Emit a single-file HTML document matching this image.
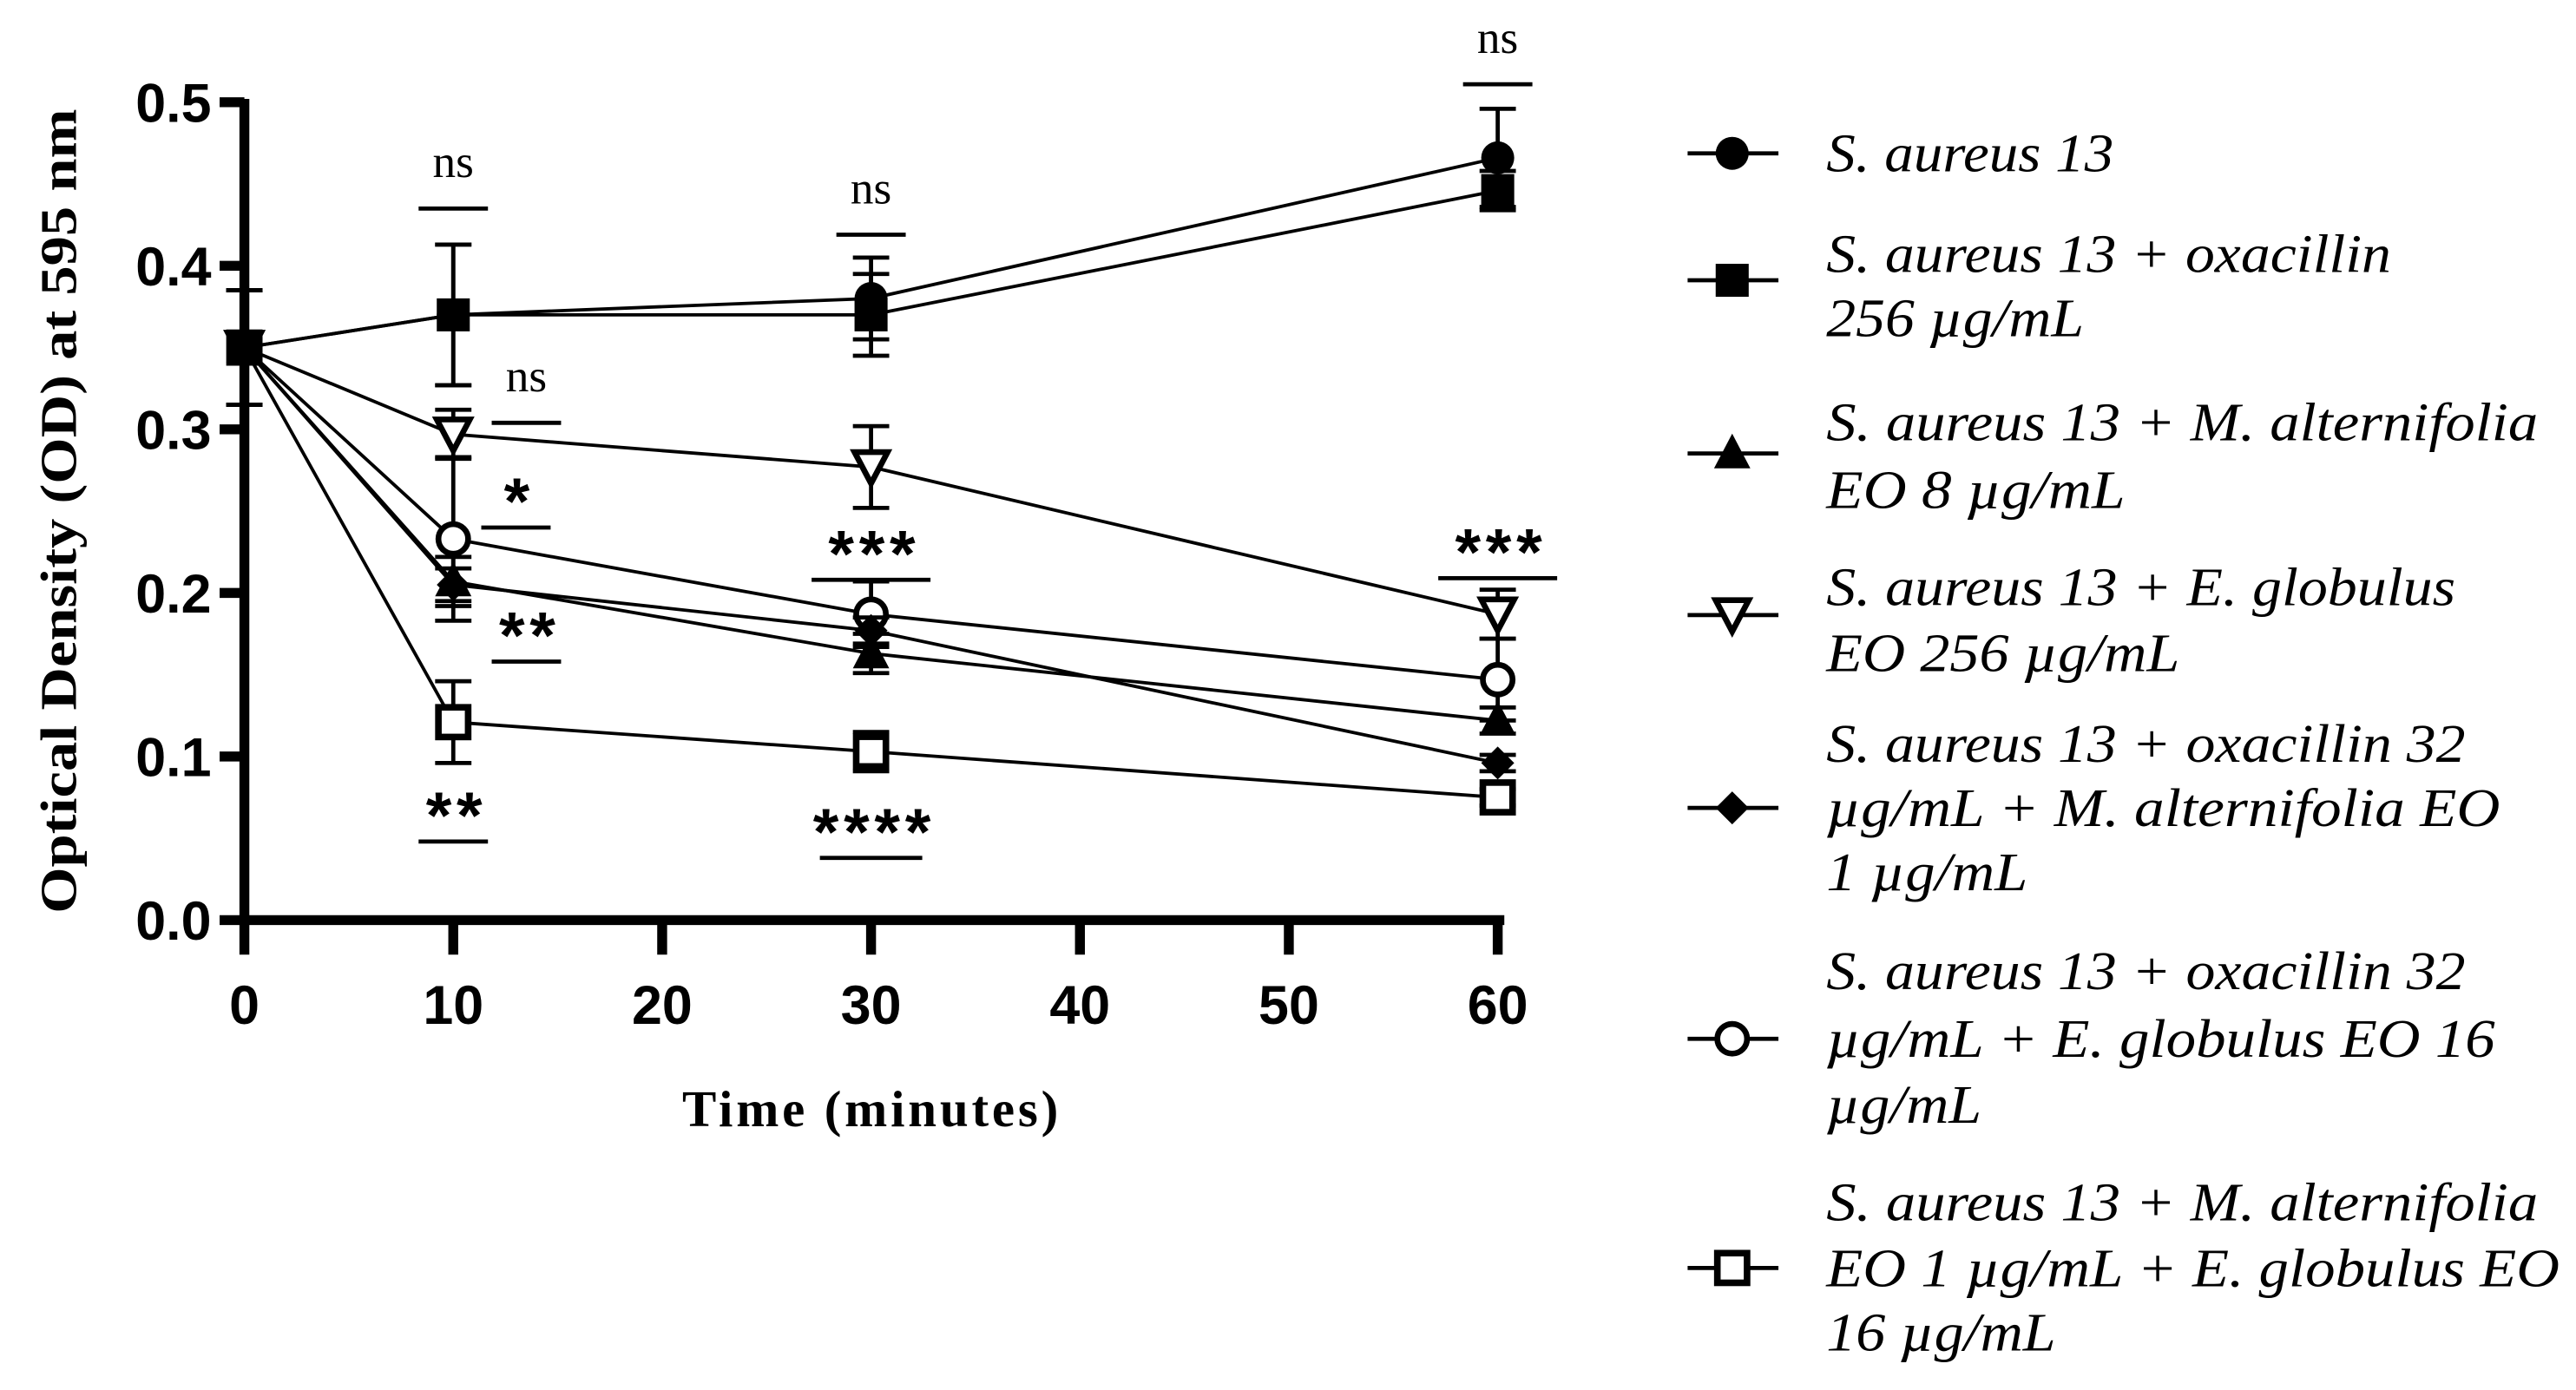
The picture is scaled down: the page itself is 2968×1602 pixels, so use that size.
<!DOCTYPE html>
<html><head><meta charset="utf-8"><style>
html,body{margin:0;padding:0;background:#fff;}
svg{display:block;}
.tick{font-family:"Liberation Sans",Arial,sans-serif;font-weight:bold;font-size:33px;}
.leg{font-family:"Liberation Serif","Times New Roman",serif;font-style:italic;font-size:33px;}
.ann{font-family:"Liberation Serif","Times New Roman",serif;font-size:28px;}
.star{font-family:"Liberation Sans",Arial,sans-serif;font-weight:bold;font-size:40px;letter-spacing:3px;}
</style></head><body>
<svg id="chart" width="2968" height="1602" viewBox="0 0 1560 843" preserveAspectRatio="none" xmlns="http://www.w3.org/2000/svg">
<g id="plot"></g>
<g id="legend"></g>
</svg>
<script>
const times = [0, 10, 30, 60];
const xTicks = [0, 10, 20, 30, 40, 50, 60];
const yTicks = [0.0, 0.1, 0.2, 0.3, 0.4, 0.5];
const sAureus = [0.35, 0.37, 0.38, 0.466];
const sAureusErr = [0.035, 0.043, 0.025, 0.03];
const oxa256 = [0.35, 0.37, 0.37, 0.446];
const oxa256Err = [0.035, 0.043, 0.025, 0.012];
const mAlt = [0.35, 0.207, 0.163, 0.122];
const mAltErr = [0.035, 0.015, 0.012, 0.008];
const eGlob = [0.35, 0.297, 0.277, 0.187];
const eGlobErr = [0.035, 0.015, 0.025, 0.015];
const oxaM = [0.35, 0.205, 0.177, 0.096];
const oxaMErr = [0.035, 0.01, 0.008, 0.005];
const oxaE = [0.35, 0.233, 0.187, 0.147];
const oxaEErr = [0.035, 0.05, 0.02, 0.025];
const mE = [0.35, 0.121, 0.103, 0.075];
const mEErr = [0.035, 0.025, 0.012, 0.005];
const annLabels = ["ns","ns","*","**","**","ns","***","****","ns","***"];
const annTimes = [10, 13.5, 13, 13.5, 10, 30, 30, 30, 60, 60];
const annValues = [0.435, 0.304, 0.24, 0.158, 0.048, 0.419, 0.208, 0.038, 0.511, 0.209];

const NS='http://www.w3.org/2000/svg';
const X0=148, XS=12.65, Y0=558, YS=992;
function sx(t){return X0+t*XS;}
function sy(v){return Y0-v*YS;}
function mk(tag,attrs,parent){const e=document.createElementNS(NS,tag);for(const k in attrs)e.setAttribute(k,attrs[k]);parent.appendChild(e);return e;}
const plot=document.getElementById('plot');
const legend=document.getElementById('legend');

let ya=mk('line',{x1:X0,y1:Y0+3,x2:X0,y2:sy(0.5)-2,stroke:'#000','stroke-width':6},plot);


let xa=mk('line',{x1:X0-3,y1:Y0,x2:sx(60)+4,y2:Y0,stroke:'#000','stroke-width':6},plot);


yTicks.forEach(v=>{
  const l=mk('line',{x1:X0-15,y1:sy(v),x2:X0,y2:sy(v),stroke:'#000','stroke-width':6},plot);
  
  
  const t=mk('text',{x:X0-20,y:sy(v)+12,'text-anchor':'end',class:'tick'},plot);
  t.textContent=v.toFixed(1);
  
  
});
xTicks.forEach(v=>{
  const l=mk('line',{x1:sx(v),y1:Y0,x2:sx(v),y2:Y0+21,stroke:'#000','stroke-width':6},plot);
  
  
  const t=mk('text',{x:sx(v),y:Y0+63,'text-anchor':'middle',class:'tick'},plot);
  t.textContent=String(v);
  
  
});
let xt=mk('text',{x:528,y:683,'text-anchor':'middle','font-family':'Liberation Serif, Times New Roman, serif','font-weight':'bold','font-size':31,'letter-spacing':2},plot);
xt.textContent='Time (minutes)';


let yt=mk('text',{x:0,y:0,'text-anchor':'middle','font-family':'Liberation Serif, Times New Roman, serif','font-weight':'bold','font-size':31,textLength:488,lengthAdjust:'spacingAndGlyphs',transform:'translate(46,310) rotate(-90)'},plot);
yt.textContent='Optical Density (OD) at 595 nm';



function marker(type,cx,cy,parent){
  let e;
  const r=10;
  if(type==='circle') e=mk('circle',{cx,cy,r,fill:'#000'},parent);
  else if(type==='square') e=mk('rect',{x:cx-r,y:cy-r,width:2*r,height:2*r,fill:'#000'},parent);
  else if(type==='tri') e=mk('polygon',{points:`${cx},${cy-12} ${cx+11},${cy+9} ${cx-11},${cy+9}`,fill:'#000'},parent);
  else if(type==='dtri') e=mk('polygon',{points:`${cx-10},${cy-9} ${cx+10},${cy-9} ${cx},${cy+10}`,fill:'#fff',stroke:'#000','stroke-width':3.5},parent);
  else if(type==='diamond') e=mk('polygon',{points:`${cx},${cy-10} ${cx+10},${cy} ${cx},${cy+10} ${cx-10},${cy}`,fill:'#000'},parent);
  else if(type==='ocircle') e=mk('circle',{cx,cy,r:9,fill:'#fff',stroke:'#000','stroke-width':3.5},parent);
  else if(type==='osquare') e=mk('rect',{x:cx-9,y:cy-9,width:18,height:18,fill:'#fff',stroke:'#000','stroke-width':4},parent);
  return e;
}
const series=[
 {name:'s-aureus-13',vals:sAureus,err:sAureusErr,m:'circle'},
 {name:'oxacillin-256',vals:oxa256,err:oxa256Err,m:'square'},
 {name:'m-alternifolia-8',vals:mAlt,err:mAltErr,m:'tri'},
 {name:'e-globulus-256',vals:eGlob,err:eGlobErr,m:'dtri'},
 {name:'oxacillin-m-alternifolia',vals:oxaM,err:oxaMErr,m:'diamond'},
 {name:'oxacillin-e-globulus',vals:oxaE,err:oxaEErr,m:'ocircle'},
 {name:'m-alternifolia-e-globulus',vals:mE,err:mEErr,m:'osquare'}
];
series.slice().reverse().forEach(s=>{
  const g=mk('g',{},plot);
  
  
  s.vals.forEach((v,i)=>{
    const x=sx(times[i]), e=s.err[i];
    const eb=mk('path',{d:`M${x},${sy(v+e)}V${sy(v-e)}M${x-11},${sy(v+e)}H${x+11}M${x-11},${sy(v-e)}H${x+11}`,stroke:'#000','stroke-width':2.5,fill:'none'},g);
    
    
  });
  const ln=mk('polyline',{points:s.vals.map((v,i)=>sx(times[i])+','+sy(v)).join(' '),fill:'none',stroke:'#000','stroke-width':2},g);
  
  
  s.vals.forEach((v,i)=>{
    const p=marker(s.m,sx(times[i]),sy(v),g);
    
    
  });
});
annLabels.forEach((lab,i)=>{
  const x=sx(annTimes[i]), y=sy(annValues[i]);
  const w=lab.length>=4?62:(lab.length===3?72:42);
  const l=mk('line',{x1:x-w/2,y1:y,x2:x+w/2,y2:y,stroke:'#000','stroke-width':2.5},plot);
  
  
  const isNs=lab==='ns';
  const t=mk('text',{x:x+(isNs?0:2),y:isNs?y-19:y-2,'text-anchor':'middle',class:isNs?'ann':'star'},plot);
  t.textContent=lab;
  
  
});

const legEntries=[
 {m:'circle',y:93,lines:[['S. aureus 13',174,93]]},
 {m:'square',y:170,lines:[['S. aureus 13 + oxacillin',342,154],['256 µg/mL',156,193]]},
 {m:'tri',y:275,lines:[['S. aureus 13 + M. alternifolia',431,256],['EO 8 µg/mL',181,297]]},
 {m:'dtri',y:373,lines:[['S. aureus 13 + E. globulus',381,356],['EO 256 µg/mL',214,396]]},
 {m:'diamond',y:490,lines:[['S. aureus 13 + oxacillin 32',387,451],['µg/mL + M. alternifolia EO',408,490],['1 µg/mL',122,529]]},
 {m:'ocircle',y:630,lines:[['S. aureus 13 + oxacillin 32',387,589],['µg/mL + E. globulus EO 16',405,630],['µg/mL',94,670]]},
 {m:'osquare',y:769,lines:[['S. aureus 13 + M. alternifolia',431,729],['EO 1 µg/mL + E. globulus EO',444,769],['16 µg/mL',139,808]]}
];
legEntries.forEach(en=>{
  const g=mk('g',{},legend);
  
  
  mk('line',{x1:1022,y1:en.y,x2:1077,y2:en.y,stroke:'#000','stroke-width':2.5},g);
  marker(en.m,1049,en.y,g);
  en.lines.forEach(([txt,w,cy])=>{
    const t=mk('text',{x:1106,y:cy+11,class:'leg',textLength:w,lengthAdjust:'spacingAndGlyphs'},g);
    t.textContent=txt;
  });
});
</script>
</body></html>
